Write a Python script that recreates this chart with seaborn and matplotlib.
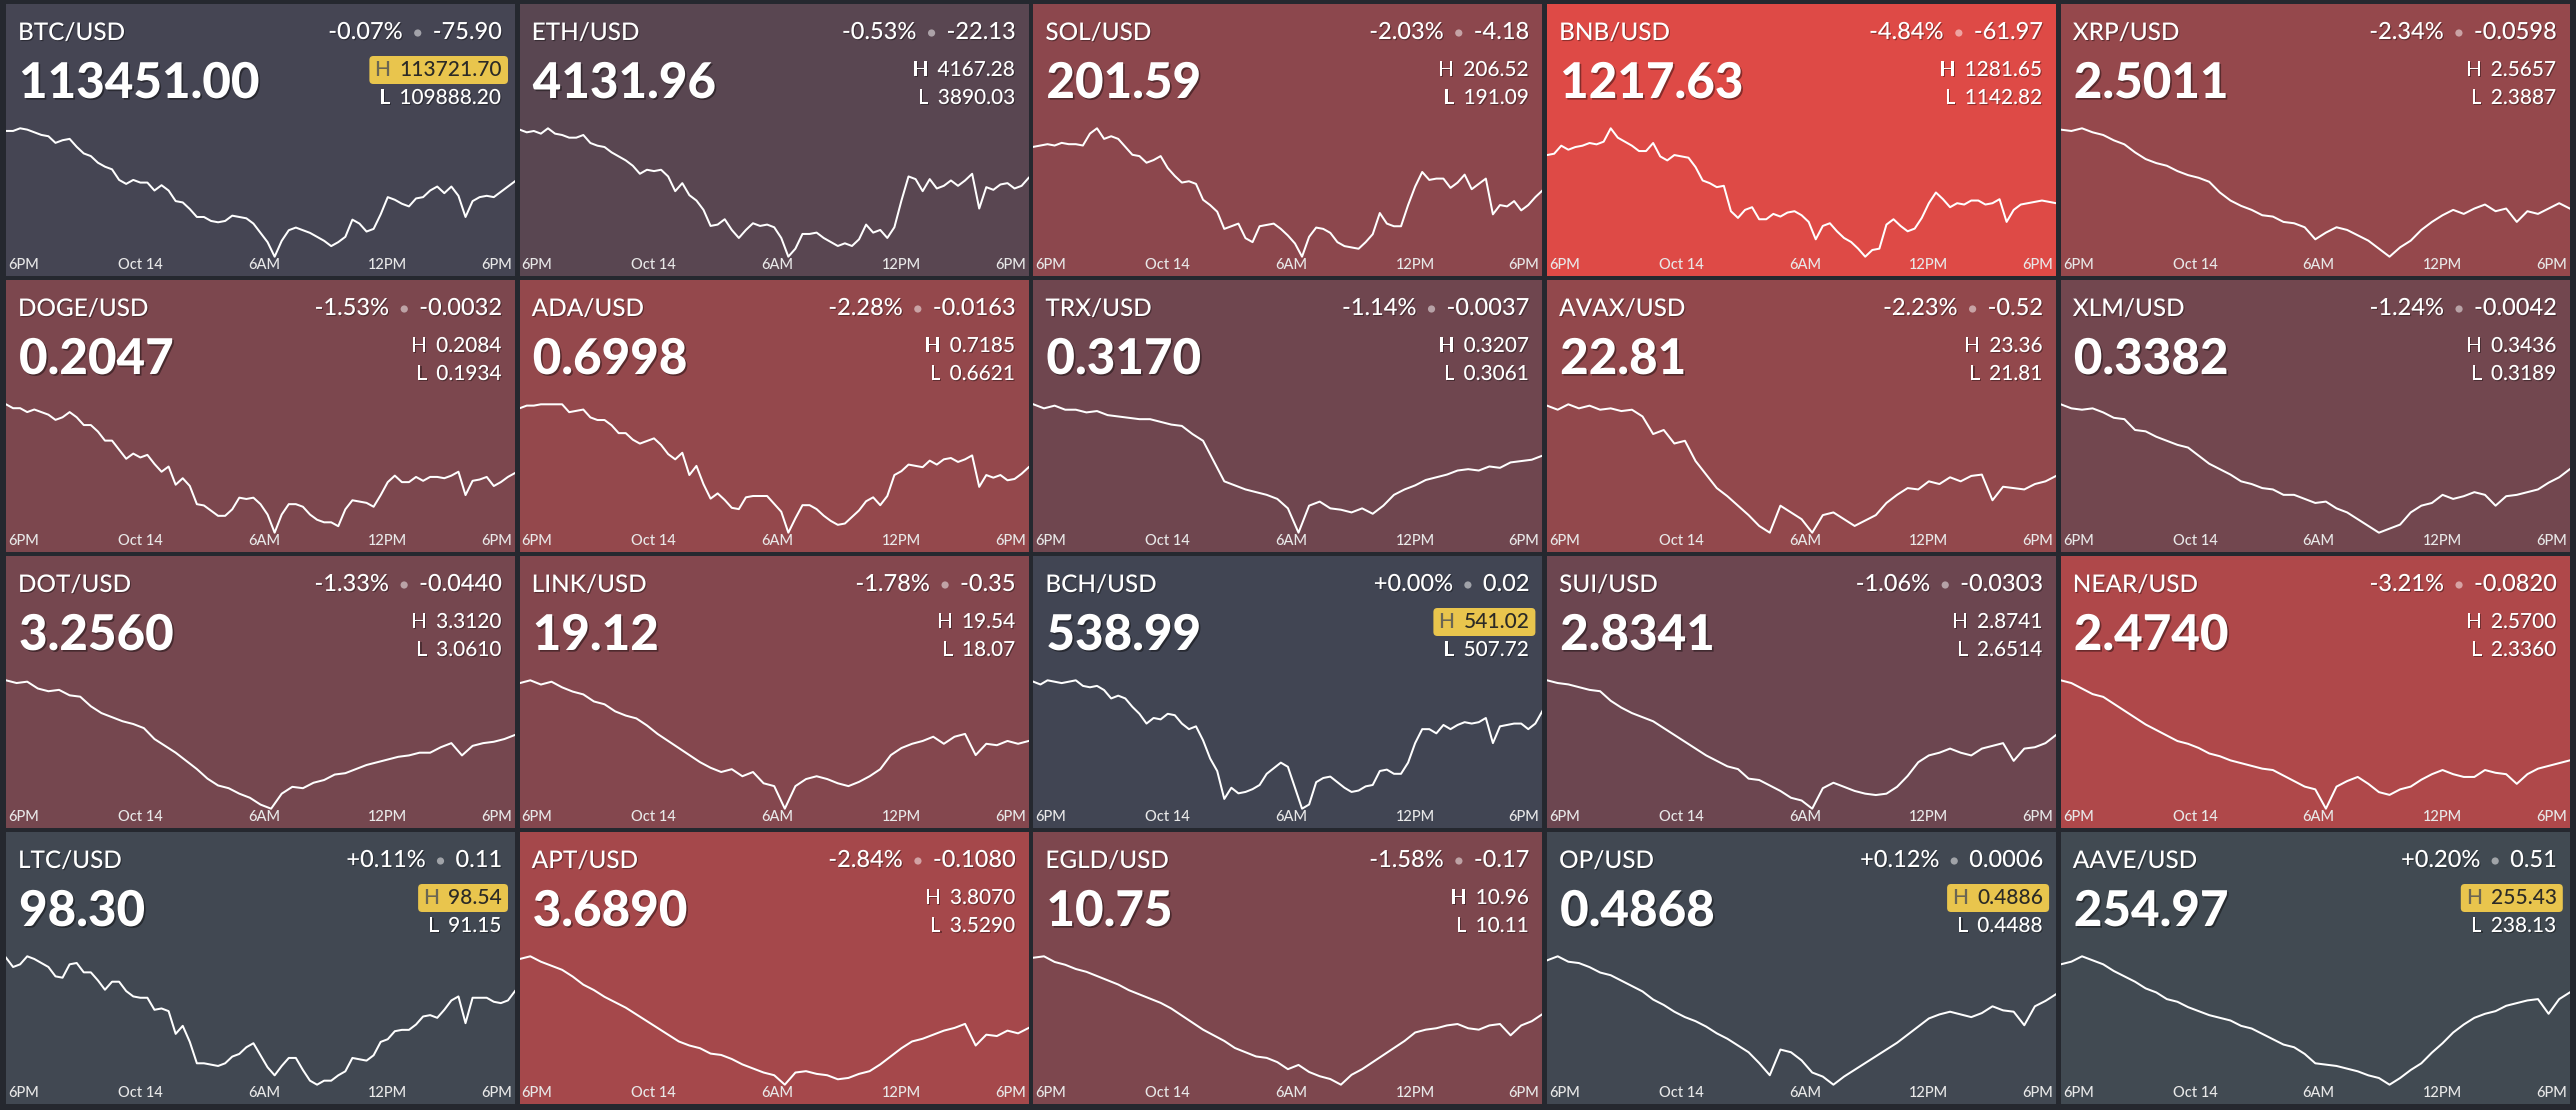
import matplotlib
matplotlib.use('Agg')
import matplotlib.pyplot as plt
import matplotlib.patheffects as pe
import matplotlib.dates as mdates
from matplotlib.patches import FancyBboxPatch, Circle
from matplotlib.transforms import IdentityTransform
import seaborn as sns
import pandas as pd
import numpy as np

# tile header data
pairs = ['BTC/USD', 'ETH/USD', 'SOL/USD', 'BNB/USD', 'XRP/USD',
         'DOGE/USD', 'ADA/USD', 'TRX/USD', 'AVAX/USD', 'XLM/USD',
         'DOT/USD', 'LINK/USD', 'BCH/USD', 'SUI/USD', 'NEAR/USD',
         'LTC/USD', 'APT/USD', 'EGLD/USD', 'OP/USD', 'AAVE/USD']
prices = ['113451.00', '4131.96', '201.59', '1217.63', '2.5011',
          '0.2047', '0.6998', '0.3170', '22.81', '0.3382',
          '3.2560', '19.12', '538.99', '2.8341', '2.4740',
          '98.30', '3.6890', '10.75', '0.4868', '254.97']
pcts = [-0.07, -0.53, -2.03, -4.84, -2.34,
        -1.53, -2.28, -1.14, -2.23, -1.24,
        -1.33, -1.78, 0.00, -1.06, -3.21,
        0.11, -2.84, -1.58, 0.12, 0.20]
changes = ['-75.90', '-22.13', '-4.18', '-61.97', '-0.0598',
           '-0.0032', '-0.0163', '-0.0037', '-0.52', '-0.0042',
           '-0.0440', '-0.35', '0.02', '-0.0303', '-0.0820',
           '0.11', '-0.1080', '-0.17', '0.0006', '0.51']
highs = ['113721.70', '4167.28', '206.52', '1281.65', '2.5657',
         '0.2084', '0.7185', '0.3207', '23.36', '0.3436',
         '3.3120', '19.54', '541.02', '2.8741', '2.5700',
         '98.54', '3.8070', '10.96', '0.4886', '255.43']
lows = ['109888.20', '3890.03', '191.09', '1142.82', '2.3887',
        '0.1934', '0.6621', '0.3061', '21.81', '0.3189',
        '3.0610', '18.07', '507.72', '2.6514', '2.3360',
        '91.15', '3.5290', '10.11', '0.4488', '238.13']

# sparkline levels (0 = lowest point of the line, 100 = highest)
btc = [97, 97, 99, 98, 96, 94, 93, 88, 90, 91, 85, 80, 78, 73, 70, 68, 60, 57, 60, 58,
       58, 52, 56, 52, 44, 43, 38, 32, 32, 29, 28, 29, 33, 32, 31, 27, 20, 13, 2, 14,
       22, 24, 22, 20, 17, 14, 10, 13, 17, 30, 27, 21, 23, 34, 47, 45, 42, 40, 46, 47,
       52, 55, 50, 55, 48, 32, 44, 47, 48, 47, 51, 55, 59]
eth = [99, 97, 98, 96, 100, 96, 95, 93, 93, 95, 89, 87, 86, 82, 79, 76, 72, 66, 69, 68,
       69, 64, 53, 59, 50, 46, 39, 27, 28, 32, 24, 18, 24, 29, 27, 28, 26, 18, 4, 10,
       21, 21, 22, 18, 15, 12, 14, 12, 17, 28, 22, 24, 18, 26, 46, 64, 62, 53, 62, 55,
       57, 61, 57, 61, 66, 40, 56, 54, 58, 59, 55, 57, 63]
sol = [86, 87, 88, 87, 89, 88, 88, 87, 96, 100, 92, 94, 92, 86, 80, 79, 74, 76, 79, 70,
       64, 59, 60, 58, 46, 42, 37, 24, 26, 28, 17, 14, 26, 27, 28, 24, 19, 13, 3, 18,
       25, 24, 21, 14, 11, 10, 9, 14, 20, 36, 28, 26, 26, 42, 56, 67, 61, 62, 62, 55,
       59, 65, 54, 58, 62, 35, 42, 41, 45, 38, 42, 48, 53]
bnb = [79, 80, 86, 83, 85, 86, 88, 87, 89, 99, 92, 89, 86, 82, 82, 88, 78, 75, 79, 78,
       77, 70, 60, 58, 55, 56, 37, 32, 38, 40, 31, 31, 35, 33, 36, 37, 34, 29, 16, 26,
       28, 22, 17, 14, 9, 3, 8, 9, 27, 31, 26, 22, 24, 32, 43, 51, 46, 40, 43, 42,
       45, 45, 42, 43, 46, 29, 38, 42, 43, 44, 45, 44, 43]
xrp = [97, 96, 98, 95, 93, 89, 86, 80, 75, 72, 70, 66, 63, 61, 58, 50, 44, 40, 37, 33,
       32, 28, 27, 24, 15, 20, 24, 22, 18, 14, 8, 2, 9, 14, 22, 28, 33, 37, 34, 38,
       41, 36, 38, 28, 36, 34, 38, 42, 38]
doge = [99, 96, 96, 93, 95, 93, 91, 87, 89, 93, 89, 83, 83, 78, 71, 71, 64, 57, 61, 58,
        60, 53, 47, 51, 37, 42, 36, 22, 21, 17, 13, 13, 18, 27, 26, 27, 22, 14, 0, 14,
        22, 22, 20, 14, 10, 8, 8, 5, 18, 25, 24, 23, 20, 29, 39, 44, 39, 39, 43, 40,
        43, 43, 42, 44, 47, 29, 40, 41, 43, 36, 39, 43, 46]
ada = [96, 98, 98, 99, 99, 99, 99, 93, 94, 95, 89, 87, 87, 83, 77, 77, 72, 69, 71, 73,
       68, 61, 57, 62, 45, 52, 38, 27, 31, 26, 20, 19, 28, 29, 29, 29, 23, 17, 1, 12,
       22, 22, 19, 14, 10, 7, 8, 13, 18, 25, 28, 22, 29, 45, 48, 53, 52, 51, 56, 53,
       57, 58, 55, 57, 60, 36, 45, 43, 45, 41, 42, 46, 51]
trx = [100, 97, 99, 96, 96, 94, 95, 92, 91, 90, 89, 89, 87, 85, 84, 78, 73, 58, 43, 40,
       37, 35, 33, 30, 23, 5, 25, 28, 23, 22, 20, 23, 19, 25, 33, 37, 40, 44, 46, 48,
       51, 52, 51, 54, 53, 57, 58, 59, 62]
avax = [99, 96, 100, 97, 99, 96, 97, 95, 96, 91, 78, 81, 71, 73, 58, 48, 38, 32, 25, 18,
        10, 5, 25, 20, 15, 5, 18, 20, 15, 10, 14, 18, 27, 33, 38, 37, 43, 41, 46, 43,
        47, 48, 29, 39, 38, 37, 41, 43, 47]
xlm = [100, 97, 96, 97, 94, 90, 89, 81, 80, 76, 73, 70, 68, 62, 56, 52, 48, 43, 41, 38,
       37, 33, 33, 30, 27, 28, 23, 20, 15, 10, 5, 8, 11, 20, 25, 27, 33, 30, 32, 35,
       33, 25, 32, 33, 35, 37, 42, 46, 52]
dot = [97, 95, 96, 91, 89, 90, 86, 85, 78, 73, 70, 67, 65, 62, 54, 49, 44, 38, 32, 25,
       20, 18, 14, 11, 6, 3, 14, 19, 18, 22, 24, 28, 29, 32, 35, 37, 39, 41, 42, 44,
       44, 48, 51, 42, 49, 51, 52, 54, 57]
link = [95, 97, 94, 96, 92, 89, 87, 82, 80, 75, 72, 70, 65, 59, 54, 49, 44, 39, 35, 32,
        34, 29, 32, 24, 22, 6, 22, 27, 29, 27, 24, 22, 25, 29, 34, 44, 49, 52, 54, 57,
        52, 57, 59, 44, 52, 51, 54, 52, 54]
bch = [98, 96, 99, 98, 97, 98, 99, 95, 94, 95, 92, 86, 88, 86, 80, 75, 68, 72, 71, 75,
       74, 68, 64, 66, 56, 43, 34, 14, 22, 18, 19, 21, 24, 32, 36, 40, 37, 22, 7, 10,
       26, 29, 30, 26, 22, 19, 20, 23, 24, 34, 35, 32, 32, 40, 54, 64, 64, 61, 67, 64,
       67, 69, 68, 69, 72, 54, 66, 67, 68, 68, 64, 68, 77]
sui = [97, 95, 94, 92, 90, 89, 82, 77, 73, 70, 67, 62, 57, 52, 47, 42, 38, 34, 32, 25,
       24, 20, 16, 11, 9, 3, 18, 22, 19, 16, 14, 13, 14, 19, 27, 37, 42, 44, 47, 44,
       42, 47, 49, 51, 38, 47, 48, 51, 57]
near = [97, 95, 91, 87, 85, 80, 75, 70, 65, 61, 57, 53, 51, 48, 44, 42, 39, 37, 35, 33,
        32, 28, 24, 20, 18, 4, 20, 24, 27, 22, 16, 14, 18, 20, 25, 29, 32, 29, 27, 27,
        32, 30, 29, 22, 29, 33, 35, 37, 39]
ltc = [97, 90, 92, 98, 96, 93, 90, 83, 82, 92, 93, 86, 86, 80, 73, 79, 79, 72, 68, 67,
       67, 58, 59, 57, 40, 46, 34, 18, 18, 17, 16, 18, 23, 25, 30, 33, 24, 15, 9, 16,
       22, 22, 13, 5, 2, 5, 5, 9, 12, 22, 21, 20, 24, 34, 36, 42, 43, 43, 47, 53,
       54, 52, 58, 65, 68, 48, 67, 67, 67, 64, 63, 65, 72]
apt = [94, 96, 92, 89, 86, 81, 75, 71, 66, 62, 58, 53, 48, 43, 38, 33, 30, 28, 24, 23,
       20, 16, 13, 10, 8, 1, 10, 11, 9, 8, 5, 6, 9, 11, 16, 22, 28, 33, 35, 38,
       41, 43, 46, 30, 38, 37, 41, 39, 43]
egld = [94, 95, 91, 89, 86, 84, 81, 78, 75, 71, 68, 65, 62, 58, 53, 48, 43, 39, 35, 30,
        27, 24, 23, 20, 15, 18, 13, 10, 8, 4, 11, 15, 20, 25, 30, 35, 41, 43, 44, 46,
        47, 44, 43, 46, 47, 39, 46, 49, 54]
op = [96, 99, 95, 94, 91, 87, 85, 81, 77, 73, 67, 63, 58, 54, 51, 47, 42, 38, 33, 28,
      20, 11, 30, 28, 22, 13, 10, 4, 10, 15, 20, 25, 30, 35, 41, 47, 53, 56, 58, 56,
      54, 57, 62, 59, 58, 48, 62, 66, 71]
aave = [94, 96, 100, 97, 94, 89, 85, 81, 76, 73, 68, 66, 62, 59, 56, 54, 52, 48, 46, 42,
        38, 34, 32, 27, 20, 19, 18, 16, 14, 11, 9, 4, 9, 15, 20, 28, 35, 43, 49, 54,
        57, 59, 63, 65, 67, 68, 57, 68, 73]

series = [btc, eth, sol, bnb, xrp, doge, ada, trx, avax, xlm,
          dot, link, bch, sui, near, ltc, apt, egld, op, aave]

t_start = pd.Timestamp('2025-10-13 17:30')
t_end = pd.Timestamp('2025-10-14 18:10')
tick_times = [pd.Timestamp('2025-10-13 18:00'), pd.Timestamp('2025-10-14 00:00'),
              pd.Timestamp('2025-10-14 06:00'), pd.Timestamp('2025-10-14 12:00'),
              pd.Timestamp('2025-10-14 18:00')]
tick_labels = ['6PM', 'Oct 14', '6AM', '12PM', '6PM']

W, H = 2576, 1110
TW, TH = 509, 272
GRAY = np.array([0x41, 0x45, 0x53]) / 255
RED = np.array([0xe2, 0x4a, 0x46]) / 255
GREEN = np.array([0x41, 0x95, 0x40]) / 255


def tile_color(p):
    t = min(abs(p) / 5, 1) ** 0.85
    end = RED if p < 0 else GREEN
    return tuple(GRAY + (end - GRAY) * t)


fig = plt.figure(figsize=(W / 100, H / 100), dpi=100, facecolor='#25282f')
plt.rcParams['font.family'] = ['Lato', 'DejaVu Sans']
renderer = fig.canvas.get_renderer()
ident = IdentityTransform()
shadow = [pe.withSimplePatchShadow(offset=(0.8, -0.8), shadow_rgbFace='black', alpha=0.35)]
big_shadow = [pe.withSimplePatchShadow(offset=(1.2, -1.2), shadow_rgbFace='black', alpha=0.4)]

for i, vals in enumerate(series):
    r, c = divmod(i, 5)
    x0 = 6 + c * 513.7
    y0 = 4 + r * 276

    def P(x, y):
        return x0 + x, H - (y0 + y)

    ax = fig.add_axes([x0 / W, 1 - (y0 + TH) / H, TW / W, TH / H])
    ax.set_facecolor(tile_color(pcts[i]))

    times = pd.date_range(t_start, t_end, periods=len(vals))
    sns.lineplot(x=times, y=vals, ax=ax, color='white', linewidth=1.45,
                 solid_joinstyle='round')
    lo, hi = min(vals), max(vals)
    span = hi - lo
    ymin = lo - 0.071 / 0.472 * span
    ax.set_ylim(ymin, ymin + span / 0.472)
    ax.set_xlim(t_start, t_end)
    ax.set(xlabel='', ylabel='', xticks=[], yticks=[])
    for sp in ax.spines.values():
        sp.set_visible(False)

    # header
    fig.text(*P(12, 36), pairs[i], transform=ident, ha='left', va='baseline',
             fontsize=17.5, fontweight='medium', color='white', path_effects=shadow)
    fig.text(*P(13, 94), prices[i], transform=ident, ha='left', va='baseline',
             fontsize=35.5, fontweight='black', color='white', path_effects=big_shadow)

    t_chg = fig.text(*P(496, 35), changes[i], transform=ident, ha='right', va='baseline',
                     fontsize=17, fontweight='medium', color='white', path_effects=shadow)
    bb = t_chg.get_window_extent(renderer)
    dot_y = H - (y0 + 29)
    fig.add_artist(Circle((bb.x0 - 15, dot_y), 3.6, transform=ident,
                          facecolor=(1, 1, 1, 0.5), edgecolor='none'))
    fig.text(bb.x0 - 30, H - (y0 + 35), f'{pcts[i]:+.2f}%', transform=ident, ha='right',
             va='baseline', fontsize=17, fontweight='medium', color='white', path_effects=shadow)

    # high / low
    near_high = (float(highs[i]) - float(prices[i])) / float(highs[i]) < 0.005
    val_col = '#2b2a26' if near_high else 'white'
    t_h = fig.text(*P(496, 72), highs[i], transform=ident, ha='right', va='baseline',
                   fontsize=15, fontweight='medium', color=val_col,
                   path_effects=None if near_high else shadow)
    t_l = fig.text(*P(496, 100), lows[i], transform=ident, ha='right', va='baseline',
                   fontsize=15, fontweight='medium', color='white', path_effects=shadow)
    left = min(t_h.get_window_extent(renderer).x0, t_l.get_window_extent(renderer).x0)
    lh = fig.text(left - 9, H - (y0 + 72), 'H', transform=ident, ha='right', va='baseline',
                  fontsize=15, fontweight='medium',
                  color='#6b6653' if near_high else 'white',
                  path_effects=None if near_high else shadow)
    fig.text(left - 9, H - (y0 + 100), 'L', transform=ident, ha='right', va='baseline',
             fontsize=15, fontweight='medium', color='white', path_effects=shadow)
    if near_high:
        lx = lh.get_window_extent(renderer).x0
        fig.add_artist(FancyBboxPatch((lx - 5, H - (y0 + 80)), x0 + 502 - (lx - 5), 28,
                                      boxstyle='round,pad=0,rounding_size=4', transform=ident,
                                      facecolor='#e9c54d', edgecolor='none', zorder=1))

    # time labels along the bottom of the tile
    ty = H - (y0 + 265)
    for k, (tt, lab) in enumerate(zip(tick_times, tick_labels)):
        if k == 0:
            tx, ha = x0 + 2, 'left'
        elif k == len(tick_times) - 1:
            tx, ha = x0 + TW - 3, 'right'
        else:
            tx = ax.transData.transform((mdates.date2num(tt), 0))[0]
            ha = 'center'
        fig.text(tx, ty, lab, transform=ident, ha=ha, va='baseline',
                 fontsize=10.5, fontweight='medium', color='#e8e8e8')

fig.savefig('out.png', dpi=100, facecolor=fig.get_facecolor())
